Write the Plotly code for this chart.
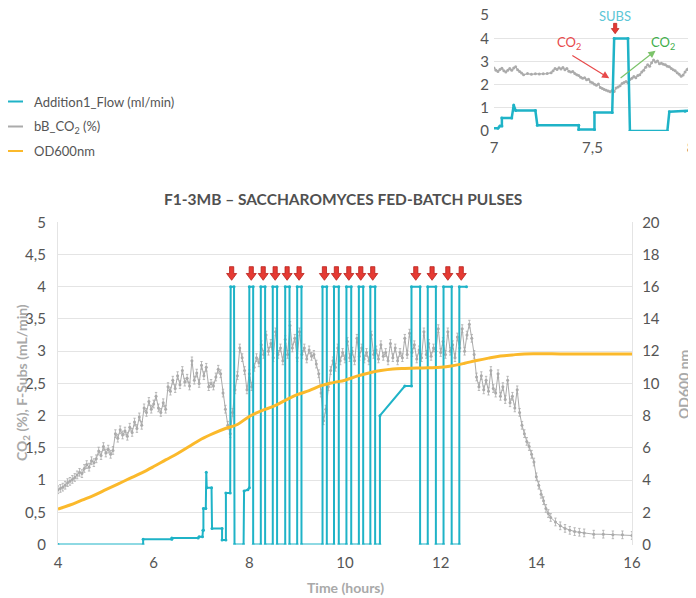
import plotly.graph_objects as go

# ---------------- DATA ----------------
# Addition1_Flow (ml/min) – step signal with substrate pulses
flow_t = [4.00, 5.78, 5.78, 6.38, 6.38, 6.93, 6.95, 7.02, 7.03, 7.04, 7.04, 7.09, 7.10, 7.11, 7.21, 7.22,
          7.43, 7.43, 7.51, 7.51, 7.60, 7.61, 7.68, 7.69, 7.88, 7.89, 7.97, 8.00,
          8.00, 8.08, 8.08, 8.24, 8.24, 8.33, 8.33, 8.49, 8.49, 8.58, 8.58, 8.75, 8.75, 8.84, 8.84,
          9.00, 9.00, 9.09, 9.09, 9.53, 9.53, 9.62, 9.62, 9.77, 9.77, 9.87, 9.87,
          10.03, 10.03, 10.13, 10.13, 10.29, 10.29, 10.38, 10.38, 10.53, 10.53, 10.63, 10.63,
          10.73, 10.73, 11.25, 11.39, 11.39, 11.57, 11.57, 11.73, 11.73, 11.90, 11.90,
          12.06, 12.06, 12.23, 12.23, 12.39, 12.39, 12.54]
flow_v = [0, 0, 0.08, 0.08, 0.10, 0.10, 0.12, 0.12, 0.22, 0.22, 0.56, 0.56, 1.12, 0.88, 0.88, 0.25,
          0.25, 0.07, 0.07, 0.80, 0.80, 4, 4, 0, 0, 0.83, 0.85, 0.88,
          4, 4, 0, 0, 4, 4, 0, 0, 4, 4, 0, 0, 4, 4, 0,
          0, 4, 4, 0, 0, 4, 4, 0, 0, 4, 4, 0,
          0, 4, 4, 0, 0, 4, 4, 0, 0, 4, 4, 0,
          0, 2.0, 2.46, 2.46, 4, 4, 0, 0, 4, 4, 0,
          0, 4, 4, 0, 0, 4, 4]

# bB_CO2 (%) – sampled every 0.05 h from 4.00 to 13.95, then tail
co2_v_main = [
    # 4.00 - 4.95
    0.85, 0.87, 0.89, 0.92, 0.96, 0.98, 1.01, 1.04, 1.08, 1.12, 1.10, 1.18, 1.24, 1.20, 1.30, 1.27, 1.33, 1.45, 1.38, 1.52,
    # 5.00 - 5.95
    1.42, 1.48, 1.40, 1.46, 1.72, 1.65, 1.78, 1.70, 1.76, 1.68, 1.82, 1.74, 1.90, 1.80, 1.98, 1.85, 2.12, 2.05, 2.22, 2.10,
    # 6.00 - 6.95
    2.18, 2.30, 2.12, 2.05, 2.20, 2.10, 2.45, 2.38, 2.55, 2.42, 2.62, 2.48, 2.70, 2.52, 2.58, 2.46, 2.85, 2.55, 2.66, 2.50,
    # 7.00 - 7.95
    2.78, 2.62, 2.75, 2.45, 2.50, 2.46, 2.60, 2.72, 2.65, 2.35, 2.10, 1.85, 1.72, 2.05, 2.40, 2.62, 3.05, 2.90, 2.70, 2.40,
    # 8.00 - 8.95
    2.65, 2.45, 2.75, 2.90, 2.82, 3.10, 2.95, 3.25, 3.00, 3.12, 2.90, 3.30, 2.95, 3.05, 2.85, 3.18, 2.95, 3.40, 3.05, 3.20,
    # 9.00 - 9.95
    2.90, 3.30, 2.95, 3.05, 2.88, 3.02, 2.92, 2.95, 2.80, 2.65, 2.35, 1.92, 2.10, 2.45, 2.70, 2.85, 2.75, 3.05, 2.85, 2.98,
    # 10.00 - 10.95
    2.88, 3.15, 2.90, 3.00, 2.85, 3.20, 2.92, 3.05, 2.88, 2.98, 2.85, 3.25, 2.95, 3.02, 2.88, 3.10, 2.92, 2.98, 2.85, 3.12,
    # 11.00 - 11.95
    2.90, 3.05, 2.85, 2.98, 2.90, 3.20, 2.95, 3.28, 2.98, 3.10, 2.88, 3.02, 2.90, 3.30, 2.95, 3.12, 2.92, 3.05, 3.00, 3.35,
    # 12.00 - 12.95
    2.98, 3.15, 2.95, 3.30, 3.00, 3.10, 2.90, 3.22, 3.05, 3.35, 3.00, 3.25, 3.42, 3.20, 2.95, 2.60, 2.45, 2.62, 2.40, 2.55,
    # 13.00 - 13.95
    2.38, 2.70, 2.42, 2.35, 2.65, 2.30, 2.45, 2.25, 2.55, 2.20, 2.30, 2.12, 2.40, 2.05, 1.85, 1.72, 1.60, 1.52, 1.40, 1.28,
]
co2_t_tail = [14.00, 14.05, 14.10, 14.15, 14.20, 14.25, 14.30, 14.40, 14.50, 14.60, 14.70, 14.80, 14.90,
              15.00, 15.20, 15.40, 15.60, 15.80, 16.00]
co2_v_tail = [1.05, 0.92, 0.78, 0.68, 0.56, 0.48, 0.42, 0.35, 0.29, 0.25, 0.22, 0.20, 0.19,
              0.18, 0.16, 0.16, 0.15, 0.15, 0.14]
co2_t = [round(4 + 0.05 * i, 2) for i in range(len(co2_v_main))] + co2_t_tail
co2_v = co2_v_main + co2_v_tail

# OD600 nm
od_t = [4.0, 4.25, 4.5, 4.75, 5.0, 5.25, 5.5, 5.75, 6.0, 6.25, 6.5, 6.75, 7.0, 7.25, 7.5, 7.75,
        8.0, 8.25, 8.5, 8.75, 9.0, 9.25, 9.5, 9.75, 10.0, 10.25, 10.5, 10.75, 11.0, 11.25, 11.5,
        11.75, 12.0, 12.25, 12.5, 12.75, 13.0, 13.25, 13.5, 13.75, 14.0, 14.5, 15.0, 15.5, 16.0]
od_v = [2.2, 2.45, 2.75, 3.05, 3.4, 3.75, 4.1, 4.45, 4.84, 5.25, 5.65, 6.1, 6.55, 6.9, 7.2, 7.45,
        7.95, 8.3, 8.57, 8.95, 9.3, 9.55, 9.86, 10.05, 10.2, 10.45, 10.65, 10.8, 10.9, 10.93, 10.95,
        10.97, 11.0, 11.1, 11.25, 11.42, 11.57, 11.7, 11.77, 11.83, 11.84, 11.83, 11.83, 11.82, 11.82]

# Pulse markers (hours)
pulse_t = [7.63, 8.04, 8.29, 8.54, 8.79, 9.04, 9.57, 9.82, 10.08, 10.33, 10.58, 11.48, 11.82, 12.15, 12.43]
inset_pulse_t = [7.615]

# Inset (7–8 h) CO2 detail
inset_t = [6.99, 7.00, 7.01, 7.02, 7.03, 7.04, 7.05, 7.06, 7.07, 7.08, 7.09, 7.10, 7.11, 7.12, 7.13, 7.14,
           7.15, 7.17, 7.19, 7.21, 7.23, 7.25, 7.27, 7.29, 7.30, 7.31, 7.32, 7.33, 7.34, 7.35, 7.36, 7.37,
           7.38, 7.39, 7.40, 7.41, 7.42, 7.43, 7.44, 7.45, 7.46, 7.47, 7.48, 7.49, 7.50, 7.51, 7.52, 7.53,
           7.54, 7.55, 7.56, 7.57, 7.58, 7.59, 7.60, 7.61, 7.62, 7.63, 7.64, 7.65, 7.66, 7.67, 7.68, 7.69,
           7.70, 7.71, 7.72, 7.73, 7.74, 7.75, 7.76, 7.77, 7.78, 7.79, 7.80, 7.81, 7.82, 7.83, 7.84, 7.85,
           7.86, 7.87, 7.88, 7.89, 7.90, 7.91, 7.92, 7.93, 7.94, 7.95, 7.96, 7.97, 7.98, 7.99, 8.00]
inset_v = [2.79, 2.72, 2.62, 2.57, 2.66, 2.71, 2.60, 2.55, 2.62, 2.70, 2.62, 2.72, 2.78, 2.64, 2.57, 2.50,
           2.43, 2.48, 2.45, 2.47, 2.46, 2.47, 2.48, 2.52, 2.60, 2.70, 2.66, 2.73, 2.68, 2.74, 2.64, 2.70,
           2.58, 2.55, 2.57, 2.48, 2.43, 2.40, 2.32, 2.28, 2.30, 2.21, 2.24, 2.12, 2.08, 2.02, 1.98, 2.03,
           1.88, 1.84, 1.79, 1.76, 1.73, 1.70, 1.75, 1.71, 1.86, 1.90, 1.95, 2.05, 2.10, 2.14, 2.08, 2.22,
           2.28, 2.35, 2.30, 2.40, 2.43, 2.55, 2.62, 2.75, 2.86, 2.80, 2.95, 3.07, 2.98, 3.02, 2.90, 2.93,
           2.88, 2.86, 2.80, 2.78, 2.70, 2.64, 2.60, 2.52, 2.45, 2.36, 2.42, 2.55, 2.66, 2.71, 2.64]

legend_labels = ["Addition1_Flow (ml/min)", "bB_CO<sub>2</sub> (%)", "OD600nm"]
title_text = "F1-3MB – SACCHAROMYCES FED-BATCH PULSES"

# ---------------- STYLE ----------------
TEAL = "#1fb3c7"
GREY = "#ababab"
YELLOW = "#fbb92b"
RED = "#e53a33"
RED_EDGE = "#b8211c"
TXT = "#555555"
GRID = "#e4e4e4"
FONT = "Lato"

W, H = 696, 598
OFF = 8  # page body margin: figure starts 8px right/down in the window
def px(x):
    return (x - OFF) / W
def py(y):
    return 1 - (y - OFF) / H

def arrow_path(s):
    # block down-arrow, tip at (0,0), pixel units (y up)
    return ("M %g,%g L %g,%g L %g,%g L 0,0 L %g,%g L %g,%g L %g,%g Z" %
            (-2 * s, 13 * s, -2 * s, 6.5 * s, -4.8 * s, 6.5 * s, 4.8 * s, 6.5 * s, 2 * s, 6.5 * s, 2 * s, 13 * s))

fig = go.Figure()

# Main chart traces
fig.add_trace(go.Scatter(x=co2_t, y=co2_v, mode="lines+markers", line=dict(color=GREY, width=1),
                         marker=dict(color=GREY, size=3),
                         error_y=dict(type="constant", value=0.06, width=1.2, thickness=0.8, color=GREY),
                         xaxis="x", yaxis="y", showlegend=False))
fig.add_trace(go.Scatter(x=od_t, y=od_v, mode="lines", line=dict(color=YELLOW, width=3, shape="spline"),
                         xaxis="x", yaxis="y2", showlegend=False))
fig.add_trace(go.Scatter(x=flow_t, y=flow_v, mode="lines+markers", line=dict(color=TEAL, width=2),
                         marker=dict(color=TEAL, size=3), xaxis="x", yaxis="y", showlegend=False))

# Inset traces
fig.add_trace(go.Scatter(x=inset_t, y=inset_v, mode="lines+markers", line=dict(color=GREY, width=1.2),
                         marker=dict(color=GREY, size=3), xaxis="x2", yaxis="y3", showlegend=False))
fig.add_trace(go.Scatter(x=flow_t, y=flow_v, mode="lines+markers", line=dict(color=TEAL, width=2.5),
                         marker=dict(color=TEAL, size=3), xaxis="x2", yaxis="y3", showlegend=False))

shapes = []
annotations = []
# Pulse arrows (main)
for t in pulse_t:
    shapes.append(dict(type="path", xref="x", yref="y", xsizemode="pixel", ysizemode="pixel",
                       xanchor=t, yanchor=4.1, path=arrow_path(1.05), fillcolor=RED,
                       line=dict(color=RED_EDGE, width=0.8), layer="above"))
# Inset arrow
for t in inset_pulse_t:
    shapes.append(dict(type="path", xref="x2", yref="y3", xsizemode="pixel", ysizemode="pixel",
                       xanchor=t, yanchor=4.2, path=arrow_path(0.8), fillcolor=RED,
                       line=dict(color=RED_EDGE, width=0.7), layer="above"))

annotations.append(dict(x=7.615, y=4.98, xref="x2", yref="y3", text="SUBS", showarrow=False,
                        xanchor="center", yanchor="middle",
                        font=dict(family=FONT, size=13, color="#5cc6d6")))
annotations.append(dict(x=7.38, y=3.8, xref="x2", yref="y3", text="CO<sub>2</sub>", showarrow=False,
                        xanchor="center", yanchor="middle",
                        font=dict(family=FONT, size=13, color="#e8494a")))
annotations.append(dict(x=7.86, y=3.82, xref="x2", yref="y3", text="CO<sub>2</sub>", showarrow=False,
                        xanchor="center", yanchor="middle",
                        font=dict(family=FONT, size=13, color="#3dae4a")))
annotations.append(dict(x=7.585, y=2.28, ax=7.39, ay=3.3, xref="x2", yref="y3", axref="x2", ayref="y3",
                        text="", showarrow=True, arrowhead=2, arrowsize=1.2, arrowwidth=1.2, arrowcolor="#e8494a"))
annotations.append(dict(x=7.82, y=3.47, ax=7.635, ay=2.24, xref="x2", yref="y3", axref="x2", ayref="y3",
                        text="", showarrow=True, arrowhead=2, arrowsize=1.2, arrowwidth=1.2, arrowcolor="#7cc36a"))

# Title and axis titles
annotations.append(dict(x=px(343), y=py(199), xref="paper", yref="paper", text="<b>" + title_text + "</b>",
                        showarrow=False, xanchor="center", yanchor="middle",
                        font=dict(family=FONT, size=15.5, color="#505050")))
annotations.append(dict(x=px(22), y=py(383), xref="paper", yref="paper", text="<b>CO<sub>2</sub> (%), F-Subs (mL/min)</b>",
                        showarrow=False, textangle=-90, xanchor="center", yanchor="middle",
                        font=dict(family=FONT, size=14, color="#a9a9a9")))
annotations.append(dict(x=px(683), y=py(385), xref="paper", yref="paper", text="<b>OD600 nm</b>",
                        showarrow=False, textangle=-90, xanchor="center", yanchor="middle",
                        font=dict(family=FONT, size=14, color="#a9a9a9")))
annotations.append(dict(x=px(345), y=py(587), xref="paper", yref="paper", text="<b>Time (hours)</b>",
                        showarrow=False, xanchor="center", yanchor="middle",
                        font=dict(family=FONT, size=14, color="#a9a9a9")))

# Custom legend
legend_colors = [TEAL, GREY, YELLOW]
legend_y = [101.5, 126.5, 151]
for lab, col, yy in zip(legend_labels, legend_colors, legend_y):
    shapes.append(dict(type="line", xref="paper", yref="paper", x0=px(8), x1=px(23), y0=py(yy), y1=py(yy),
                       line=dict(color=col, width=2)))
    annotations.append(dict(x=px(32), y=py(yy), xref="paper", yref="paper", text=lab, showarrow=False,
                            xanchor="left", yanchor="middle", font=dict(family=FONT, size=13, color=TXT)))

tickfont = dict(family=FONT, size=15, color=TXT)
fig.update_layout(
    width=W, height=H, margin=dict(l=0, r=0, t=0, b=0, pad=0, autoexpand=False),
    paper_bgcolor="white", plot_bgcolor="white", separators=", ",
    showlegend=False,
    xaxis=dict(domain=[px(58), px(632)], range=[4, 16], dtick=2, showgrid=False, zeroline=False,
               showline=False, ticks="", tickfont=tickfont, anchor="y", automargin=False,
               ticklabelstandoff=7, ticklabeloverflow="allow"),
    yaxis=dict(domain=[py(544.5), py(222)], range=[0, 5.005], dtick=0.5, showgrid=True, gridcolor=GRID,
               gridwidth=1.3, zeroline=False, showline=True, linecolor=GRID, linewidth=1.3, ticks="",
               tickfont=tickfont, anchor="x", ticklabelstandoff=8, automargin=False,
               ticklabeloverflow="allow"),
    yaxis2=dict(overlaying="y", side="right", range=[0, 20.02], dtick=2, showgrid=False, zeroline=False,
                showline=True, linecolor=GRID, linewidth=1.3, ticks="", tickfont=tickfont, anchor="x",
                ticklabelstandoff=6, automargin=False, ticklabeloverflow="allow"),
    xaxis2=dict(domain=[px(494), px(691)], range=[7, 8], tickvals=[7, 7.5, 8], showgrid=False,
                zeroline=False, showline=False, ticks="", tickfont=tickfont, anchor="y3",
                automargin=False, ticklabelstandoff=6, ticklabeloverflow="allow"),
    yaxis3=dict(domain=[py(131), py(15)], range=[0, 5.01], dtick=1, showgrid=True, gridcolor=GRID,
                gridwidth=1.3, zeroline=False, showline=False, ticks="", tickfont=tickfont, anchor="x2",
                ticklabelstandoff=4, automargin=False, ticklabeloverflow="allow"),
    annotations=annotations, shapes=shapes,
)

fig.write_html("out.html")
